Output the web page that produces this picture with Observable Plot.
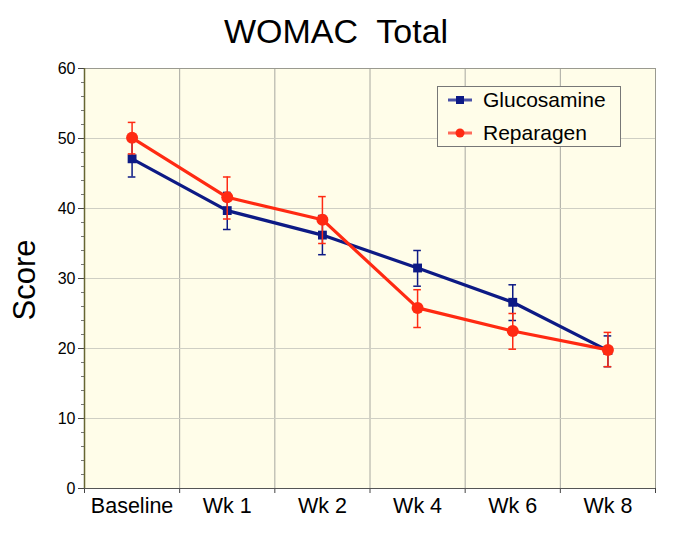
<!DOCTYPE html>
<html>
<head>
<meta charset="utf-8">
<script src="https://cdn.jsdelivr.net/npm/d3@7"></script>
<script src="https://cdn.jsdelivr.net/npm/@observablehq/plot@0.6"></script>
<style>
  body { margin: 0; background: #fff; font-family: "Liberation Sans", Arial, sans-serif; }
  #wrap { position: relative; width: 685px; height: 540px; }
  #title { position: absolute; left: 0; top: 12px; width: 672px; text-align: center; font-size: 34px; white-space: pre; color: #000; }
  #ylab { position: absolute; left: 25px; top: 280px; transform: translate(-50%, -50%) rotate(-90deg); font-size: 31px; color: #000; }
  #chart { position: absolute; left: 0; top: 60px; }
  #legend { position: absolute; left: 437px; top: 86px; width: 184px; height: 61px; border: 1px solid #777; background: #fffde9; box-sizing: border-box; }
  .item { position: absolute; left: 9px; font-size: 21px; display: flex; align-items: center; }
  .item svg { margin-right: 10px; }
</style>
</head>
<body>
<div id="wrap">
  <div id="title">WOMAC  Total</div>
  <div id="ylab">Score</div>
  <div id="chart"></div>
  <div id="legend"></div>
</div>
<script>
const categories = ["Baseline", "Wk 1", "Wk 2", "Wk 4", "Wk 6", "Wk 8"];
const seriesNames = ["Glucosamine", "Reparagen"];
const glucosamine = [47.1, 39.7, 36.2, 31.5, 26.6, 19.7];
const glucosamineLow = [44.5, 37.0, 33.4, 28.9, 24.0, 17.4];
const glucosamineHigh = [49.7, 42.3, 39.0, 34.0, 29.1, 21.8];
const reparagen = [50.1, 41.6, 38.4, 25.8, 22.5, 19.8];
const reparagenLow = [47.8, 38.5, 35.0, 23.0, 19.9, 17.4];
const reparagenHigh = [52.3, 44.5, 41.7, 28.4, 25.0, 22.3];
const yTicks = [0, 10, 20, 30, 40, 50, 60];

const colors = { Glucosamine: "#0d1a85", Reparagen: "#ff2a12" };

const rows = [];
categories.forEach((c, i) => {
  rows.push({ series: "Glucosamine", cat: c, i, v: glucosamine[i], lo: glucosamineLow[i], hi: glucosamineHigh[i] });
});
categories.forEach((c, i) => {
  rows.push({ series: "Reparagen", cat: c, i, v: reparagen[i], lo: reparagenLow[i], hi: reparagenHigh[i] });
});
const g = rows.filter(d => d.series === "Glucosamine");
const r = rows.filter(d => d.series === "Reparagen");
const xc = d => d.i + 0.5;

function seriesMarks(data, name, symbol, size) {
  const col = colors[name];
  return [
    Plot.ruleX(data, { x: xc, y1: "lo", y2: "hi", stroke: col, strokeWidth: 1.5 }),
    Plot.ruleY(data, { x1: d => d.i + 0.46, x2: d => d.i + 0.54, y: "lo", stroke: col, strokeWidth: 1.5 }),
    Plot.ruleY(data, { x1: d => d.i + 0.46, x2: d => d.i + 0.54, y: "hi", stroke: col, strokeWidth: 1.5 }),
    Plot.line(data, { x: xc, y: "v", stroke: col, strokeWidth: 3.2 }),
    Plot.dot(data, { x: xc, y: "v", symbol, r: size, fill: col, stroke: "none" })
  ];
}

const chart = Plot.plot({
  width: 685,
  height: 480,
  marginLeft: 84,
  marginRight: 30,
  marginTop: 8,
  marginBottom: 52,
  style: { fontFamily: "'Liberation Sans', Arial, sans-serif", background: "transparent", color: "#000" },
  x: { domain: [0, categories.length], axis: null },
  y: { domain: [0, 60], axis: null },
  marks: [
    Plot.frame({ fill: "#fffde9", stroke: "none" }),
    Plot.gridX(d3.range(1, categories.length), { stroke: "#a8a8a0", strokeOpacity: 1, strokeWidth: 1 }),
    Plot.gridY(yTicks.slice(1, -1), { stroke: "#cfcfc4", strokeOpacity: 1, strokeWidth: 1 }),
    Plot.frame({ stroke: "#9a9a90", strokeWidth: 1 }),
    Plot.axisX(d3.range(0, categories.length + 1), { tickSize: 5, tickFormat: () => "", stroke: "#444" }),
    Plot.axisX(categories.map((c, i) => i + 0.5), { tickSize: 0, tickPadding: 9, tickFormat: v => categories[Math.floor(v)], fontSize: 21.5 }),
    Plot.axisY(d3.range(0, 61, 2), { tickSize: 3, tickFormat: () => "", stroke: "#777" }),
    Plot.axisY(yTicks, { tickSize: 6, tickPadding: 3, fontSize: 16, stroke: "#444" }),
    Plot.ruleX([0], { stroke: "#666633", strokeWidth: 1.5 }),
    Plot.ruleY([0], { stroke: "#555", strokeWidth: 1.2 }),
    ...seriesMarks(g, "Glucosamine", "square", 5),
    ...seriesMarks(r, "Reparagen", "circle", 6)
  ]
});
document.getElementById("chart").appendChild(chart);

// Legend
const legend = document.getElementById("legend");
const legendStyle = {
  Glucosamine: { line: "#4a52a8", sym: "square" },
  Reparagen: { line: "#ff6a5a", sym: "circle" }
};
seriesNames.forEach((name, k) => {
  const div = document.createElement("div");
  div.className = "item";
  div.style.top = (k === 0 ? 1 : 34) + "px";
  const s = d3.create("svg").attr("width", 26).attr("height", 24);
  s.append("line").attr("x1", 1).attr("x2", 25).attr("y1", 12).attr("y2", 12)
    .attr("stroke", legendStyle[name].line).attr("stroke-width", 3);
  if (legendStyle[name].sym === "square") {
    s.append("rect").attr("x", 9).attr("y", 8).attr("width", 8).attr("height", 8).attr("fill", colors[name]);
  } else {
    s.append("circle").attr("cx", 13).attr("cy", 12).attr("r", 4.5).attr("fill", colors[name]);
  }
  div.appendChild(s.node());
  const t = document.createElement("span");
  t.textContent = name;
  div.appendChild(t);
  legend.appendChild(div);
});
</script>
</body>
</html>
